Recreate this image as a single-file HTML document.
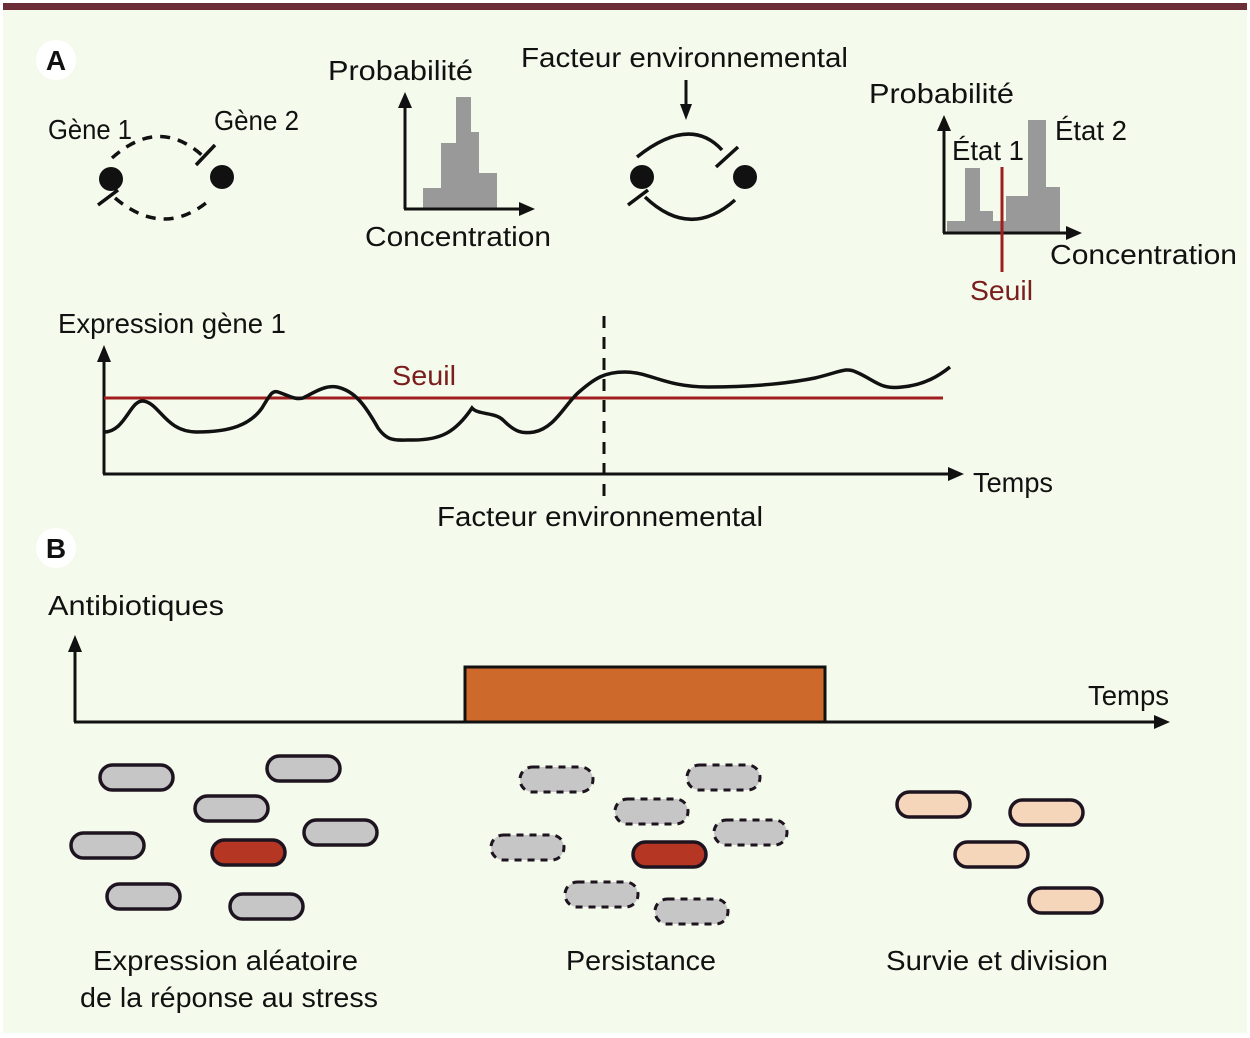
<!DOCTYPE html>
<html><head><meta charset="utf-8"><style>
html,body{margin:0;padding:0;background:#fff;}
svg{display:block;}
text{font-family:"Liberation Sans Narrow","Liberation Sans",sans-serif;fill:#111;font-size:28px;}
</style></head><body>
<svg width="1250" height="1038" viewBox="0 0 1250 1038" xmlns="http://www.w3.org/2000/svg">
<rect x="3" y="10" width="1244" height="1023" fill="#f4faec"/>
<rect x="3" y="3" width="1244" height="7" fill="#6b2d38"/>

<circle cx="56" cy="60" r="20" fill="#fff"/>
<text x="56" y="70" text-anchor="middle" font-weight="bold" font-size="28">A</text>
<circle cx="56" cy="548" r="20" fill="#fff"/>
<text x="56" y="558" text-anchor="middle" font-weight="bold" font-size="28">B</text>

<text x="48" y="139" textLength="84" lengthAdjust="spacingAndGlyphs">Gène 1</text>
<text x="214" y="130" textLength="85" lengthAdjust="spacingAndGlyphs">Gène 2</text>
<circle cx="111" cy="179" r="12" fill="#111"/>
<circle cx="222" cy="177" r="12" fill="#111"/>
<path d="M112 158 Q160 115 205 158" fill="none" stroke="#111" stroke-width="3.5" stroke-dasharray="10,8"/>
<line x1="196" y1="165" x2="215" y2="145" stroke="#111" stroke-width="3.5"/>
<path d="M115 198 Q165 240 212 198" fill="none" stroke="#111" stroke-width="3.5" stroke-dasharray="10,8"/>
<line x1="98" y1="205" x2="118" y2="190" stroke="#111" stroke-width="3.5"/>

<text x="328" y="80" textLength="145" lengthAdjust="spacingAndGlyphs">Probabilité</text>
<rect x="423" y="188" width="18" height="22" fill="#999"/>
<rect x="441" y="143" width="15" height="67" fill="#999"/>
<rect x="456" y="97" width="15" height="113" fill="#999"/>
<rect x="471" y="132" width="8" height="78" fill="#999"/>
<rect x="479" y="173" width="18" height="37" fill="#999"/>
<line x1="405" y1="209" x2="405" y2="100" stroke="#111" stroke-width="3"/>
<polygon points="405,92 398,108 412,108" fill="#111"/>
<line x1="404" y1="209" x2="525" y2="209" stroke="#111" stroke-width="3"/>
<polygon points="535,209 519,202 519,216" fill="#111"/>
<text x="365" y="246" textLength="186" lengthAdjust="spacingAndGlyphs">Concentration</text>

<text x="521" y="67" textLength="327" lengthAdjust="spacingAndGlyphs">Facteur environnemental</text>
<line x1="686" y1="80" x2="686" y2="110" stroke="#111" stroke-width="3"/>
<polygon points="686,120 680,104 692,104" fill="#111"/>
<circle cx="642" cy="177" r="12" fill="#111"/>
<circle cx="745" cy="177" r="12" fill="#111"/>
<path d="M637 157 Q690 115 722 150" fill="none" stroke="#111" stroke-width="3.5"/>
<line x1="716" y1="167" x2="738" y2="147" stroke="#111" stroke-width="3.5"/>
<path d="M645 197 Q690 240 735 200" fill="none" stroke="#111" stroke-width="3.5"/>
<line x1="628" y1="205" x2="648" y2="190" stroke="#111" stroke-width="3.5"/>

<text x="869" y="103" textLength="145" lengthAdjust="spacingAndGlyphs">Probabilité</text>
<rect x="947" y="221" width="18" height="12" fill="#999"/>
<rect x="965" y="168" width="15" height="65" fill="#999"/>
<rect x="980" y="211" width="13" height="22" fill="#999"/>
<rect x="993" y="221" width="13" height="12" fill="#999"/>
<rect x="1006" y="196" width="22" height="37" fill="#999"/>
<rect x="1028" y="120" width="18" height="113" fill="#999"/>
<rect x="1046" y="187" width="14" height="46" fill="#999"/>
<line x1="944" y1="233" x2="944" y2="125" stroke="#111" stroke-width="3"/>
<polygon points="944,115 937,131 951,131" fill="#111"/>
<line x1="943" y1="233" x2="1070" y2="233" stroke="#111" stroke-width="3"/>
<polygon points="1082,233 1066,226 1066,240" fill="#111"/>
<line x1="1002" y1="167" x2="1002" y2="272" stroke="#a11e1e" stroke-width="3"/>
<text x="952" y="160" textLength="72" lengthAdjust="spacingAndGlyphs">État 1</text>
<text x="1055" y="140" textLength="72" lengthAdjust="spacingAndGlyphs">État 2</text>
<text x="1050" y="264" textLength="187" lengthAdjust="spacingAndGlyphs">Concentration</text>
<text x="970" y="300" style="fill:#7a1d1d" textLength="63" lengthAdjust="spacingAndGlyphs">Seuil</text>

<text x="58" y="333" textLength="228" lengthAdjust="spacingAndGlyphs">Expression gène 1</text>
<line x1="104" y1="474" x2="104" y2="355" stroke="#111" stroke-width="3"/>
<polygon points="104,345 97,362 111,362" fill="#111"/>
<line x1="103" y1="474" x2="952" y2="474" stroke="#111" stroke-width="3"/>
<polygon points="964,474 948,467 948,481" fill="#111"/>
<line x1="104" y1="398" x2="943" y2="398" stroke="#a11e1e" stroke-width="3"/>
<text x="392" y="385" style="fill:#7a1d1d" textLength="64" lengthAdjust="spacingAndGlyphs">Seuil</text>
<line x1="604" y1="316" x2="604" y2="498" stroke="#111" stroke-width="3" stroke-dasharray="12,9"/>
<path d="M104 432 C125 432 130 400 143 401 C160 403 165 432 197 432 C230 432 250 425 262 408 C270 395 272 390 278 392 C290 396 295 400 303 398 C315 392 325 385 337 387 C355 391 365 405 378 428 C388 442 395 440 413 440 C440 440 455 433 472 408 C478 415 495 412 503 420 C515 432 522 434 534 432 C555 428 565 404 579 392 C595 378 605 372 625 372 C650 372 665 387 708 387 C740 387 780 385 815 378 C840 372 846 367 856 372 C875 380 880 390 902 387 C925 385 940 375 950 367" fill="none" stroke="#111" stroke-width="3.5"/>
<text x="973" y="492" textLength="80" lengthAdjust="spacingAndGlyphs">Temps</text>
<text x="437" y="526" textLength="326" lengthAdjust="spacingAndGlyphs">Facteur environnemental</text>

<text x="48" y="615" textLength="176" lengthAdjust="spacingAndGlyphs">Antibiotiques</text>
<rect x="465" y="667" width="360" height="55" fill="#cd692b" stroke="#111" stroke-width="3"/>
<line x1="75" y1="722" x2="75" y2="645" stroke="#111" stroke-width="3"/>
<polygon points="75,635 68,652 82,652" fill="#111"/>
<line x1="74" y1="722" x2="1158" y2="722" stroke="#111" stroke-width="3"/>
<polygon points="1170,722 1154,715 1154,729" fill="#111"/>
<text x="1088" y="705" textLength="81" lengthAdjust="spacingAndGlyphs">Temps</text>

<g stroke="#1e1420" stroke-width="3.5" fill="#c6c6c6">
<rect x="100" y="765" width="73" height="25" rx="12.5"/>
<rect x="267" y="756" width="73" height="25" rx="12.5"/>
<rect x="195" y="796" width="73" height="25" rx="12.5"/>
<rect x="71" y="833" width="73" height="25" rx="12.5"/>
<rect x="304" y="820" width="73" height="25" rx="12.5"/>
<rect x="212" y="840" width="73" height="25" rx="12.5" fill="#b63624"/>
<rect x="107" y="884" width="73" height="25" rx="12.5"/>
<rect x="230" y="894" width="73" height="25" rx="12.5"/>
</g>
<g stroke="#1e1420" stroke-width="3" fill="#c6c6c6" stroke-dasharray="7,6">
<rect x="520" y="767" width="73" height="25" rx="12.5"/>
<rect x="687" y="765" width="73" height="25" rx="12.5"/>
<rect x="615" y="799" width="73" height="25" rx="12.5"/>
<rect x="491" y="835" width="73" height="25" rx="12.5"/>
<rect x="714" y="820" width="73" height="25" rx="12.5"/>
<rect x="565" y="882" width="73" height="25" rx="12.5"/>
<rect x="655" y="899" width="73" height="25" rx="12.5"/>
</g>
<rect x="633" y="842" width="73" height="25" rx="12.5" fill="#b63624" stroke="#1e1420" stroke-width="3.5"/>
<g stroke="#1e1420" stroke-width="3.5" fill="#f6d6bb">
<rect x="897" y="792" width="73" height="25" rx="12.5"/>
<rect x="1010" y="800" width="73" height="25" rx="12.5"/>
<rect x="955" y="842" width="73" height="25" rx="12.5"/>
<rect x="1029" y="888" width="73" height="25" rx="12.5"/>
</g>
<text x="93" y="970" textLength="265" lengthAdjust="spacingAndGlyphs">Expression aléatoire</text>
<text x="80" y="1007" textLength="298" lengthAdjust="spacingAndGlyphs">de la réponse au stress</text>
<text x="566" y="970" textLength="150" lengthAdjust="spacingAndGlyphs">Persistance</text>
<text x="886" y="970" textLength="222" lengthAdjust="spacingAndGlyphs">Survie et division</text>
</svg>
</body></html>
